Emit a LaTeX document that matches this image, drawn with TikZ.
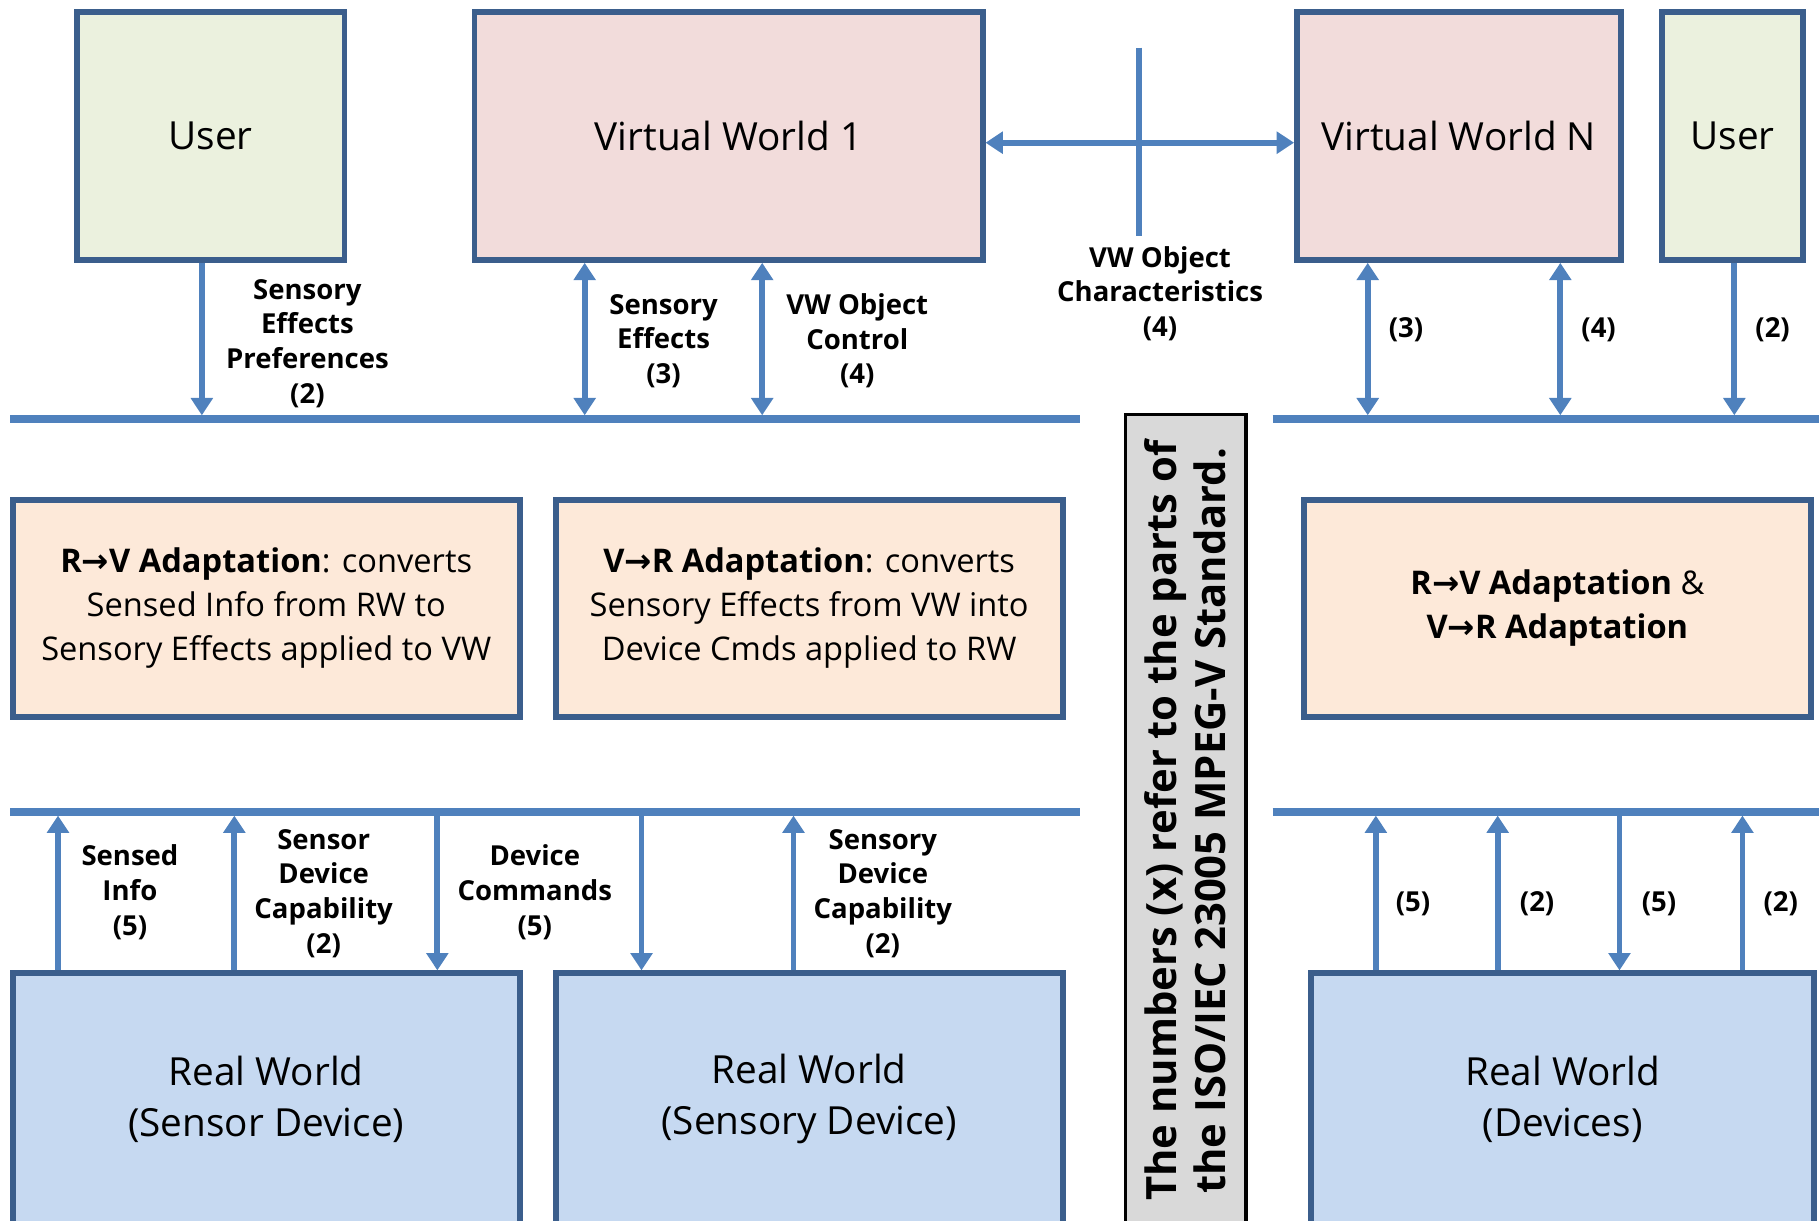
\documentclass[tikz,border=0pt]{standalone}
\usepackage{fontspec}
\setmainfont{Open Sans}
\newfontfamily\arrowfont{DejaVu Sans}
\usetikzlibrary{arrows.meta}

\definecolor{boxline}{HTML}{3B5E8C}
\definecolor{busblue}{HTML}{4F81BD}
\definecolor{userfill}{HTML}{EBF1DE}
\definecolor{vwfill}{HTML}{F2DCDB}
\definecolor{adaptfill}{HTML}{FDE9D9}
\definecolor{rwfill}{HTML}{C6D9F1}
\definecolor{notefill}{HTML}{D9D9D9}

\newcommand{\bigfont}{\fontsize{19}{25}\selectfont}
\newcommand{\midfont}{\fontsize{16}{21.6}\selectfont}
\newcommand{\lblfont}{\bfseries\fontsize{13.5}{17}\selectfont}
\newcommand{\notefont}{\bfseries\fontsize{20.5}{24}\selectfont}
\newcommand{\toarrow}{{\arrowfont\bfseries →}}

\tikzset{
  block/.style={draw=boxline, line width=2.9pt, inner sep=0pt, align=center},
  bus/.style={draw=busblue, line width=4pt},
  link/.style={draw=busblue, line width=2.9pt},
  lbl/.style={align=center, inner sep=0pt, font=\lblfont},
}

\begin{document}
\begin{tikzpicture}[x=0.02cm, y=-0.02cm, >={Triangle[width=10.5pt,length=8.5pt]}]
\useasboundingbox (0,0) rectangle (1568,1052);

% virtual worlds and users
\node[block, fill=userfill, minimum width=4.62cm, minimum height=4.28cm, font=\bigfont] (user1) at (181.5,117) {User};
\node[block, fill=vwfill, minimum width=8.76cm, minimum height=4.28cm, font=\bigfont] (vw1) at (628,117) {Virtual World 1};
\node[block, fill=vwfill, minimum width=5.58cm, minimum height=4.28cm, font=\bigfont] (vwN) at (1257.5,117) {Virtual World N};
\node[block, fill=userfill, minimum width=2.42cm, minimum height=4.28cm, font=\bigfont] (user2) at (1493.5,117) {User};

% adaptation engines
\node[block, fill=adaptfill, minimum width=8.74cm, minimum height=3.74cm, font=\midfont] (rv) at (229.5,524.5)
  {\textbf{R\toarrow V Adaptation}: converts\\Sensed Info from RW to\\Sensory Effects applied to VW};
\node[block, fill=adaptfill, minimum width=8.74cm, minimum height=3.74cm, font=\midfont] (vr) at (697.5,524.5)
  {\textbf{V\toarrow R Adaptation}: converts\\Sensory Effects from VW into\\Device Cmds applied to RW};
\node[block, fill=adaptfill, minimum width=8.74cm, minimum height=3.74cm, font=\midfont] (rvvr) at (1342.5,524.5)
  {\textbf{R\toarrow V Adaptation} \&\\\textbf{V\toarrow R Adaptation}};

% real world
\node[block, fill=rwfill, minimum width=8.74cm, minimum height=4.34cm, font=\bigfont] (rw1) at (229.5,947.5) {Real World\\(Sensor Device)};
\node[block, fill=rwfill, minimum width=8.74cm, minimum height=4.34cm, font=\bigfont] (rw2) at (697.5,947.5) {Real World\\(Sensory Device)};
\node[block, fill=rwfill, minimum width=8.68cm, minimum height=4.34cm, font=\bigfont] (rw3) at (1347,947.5) {Real World\\(Devices)};

% note
\node[draw=black, line width=1.6pt, fill=notefill, rotate=90, minimum width=14.02cm, minimum height=2.08cm,
  inner sep=0pt, align=center, font=\notefont] (note) at (1022,707.5)
  {The numbers (x) refer to the parts of\\the ISO/IEC 23005 MPEG-V Standard.};

% buses
\coordinate (busTLw) at (9,361);   \coordinate (busTLe) at (931,361);
\coordinate (busTRw) at (1097,361); \coordinate (busTRe) at (1568,361);
\coordinate (busBLw) at (9,700);   \coordinate (busBLe) at (931,700);
\coordinate (busBRw) at (1097,700); \coordinate (busBRe) at (1568,700);
\draw[bus] (busTLw) -- (busTLe);
\draw[bus] (busTRw) -- (busTRe);
\draw[bus] (busBLw) -- (busBLe);
\draw[bus] (busBRw) -- (busBRe);

% upper taps
\coordinate (s1) at (174,358);
\coordinate (s2) at (504,358);
\coordinate (s3) at (657,358);
\coordinate (s4) at (1179,358);
\coordinate (s5) at (1345,358);
\coordinate (s6) at (1495,358);
\draw[link, ->] (s1 |- user1.south) -- (s1);
\draw[link, <->] (s2 |- vw1.south) -- (s2);
\draw[link, <->] (s3 |- vw1.south) -- (s3);
\draw[link, <->] (s4 |- vwN.south) -- (s4);
\draw[link, <->] (s5 |- vwN.south) -- (s5);
\draw[link, ->] (s6 |- user2.south) -- (s6);

% lower taps
\coordinate (b1) at (50,703);
\coordinate (b2) at (202,703);
\coordinate (b3) at (377,700);
\coordinate (b4) at (553,700);
\coordinate (b5) at (684,703);
\coordinate (b6) at (1186,703);
\coordinate (b7) at (1291,703);
\coordinate (b8) at (1396,700);
\coordinate (b9) at (1502,703);
\draw[link, ->] (b1 |- rw1.north) -- (b1);
\draw[link, ->] (b2 |- rw1.north) -- (b2);
\draw[link, ->] (b3) -- (b3 |- rw1.north);
\draw[link, ->] (b4) -- (b4 |- rw2.north);
\draw[link, ->] (b5 |- rw2.north) -- (b5);
\draw[link, ->] (b6 |- rw3.north) -- (b6);
\draw[link, ->] (b7 |- rw3.north) -- (b7);
\draw[link, ->] (b8) -- (b8 |- rw3.north);
\draw[link, ->] (b9 |- rw3.north) -- (b9);

% world to world
\coordinate (cross) at (982,123);
\coordinate (crossT) at (982,41);
\coordinate (crossB) at (982,203);
\draw[link, <->] (cross -| vw1.east) -- (cross -| vwN.west);
\draw[link] (crossT) -- (crossB);

% labels
\node[lbl] (lbPref) at (265,296) {Sensory\\Effects\\Preferences\\(2)};
\node[lbl] (lbSE) at (572,294) {Sensory\\Effects\\(3)};
\node[lbl] (lbCtrl) at (739,294) {VW Object\\Control\\(4)};
\node[lbl] (lbChar) at (1000,253) {VW Object\\Characteristics\\(4)};
\node[lbl] (lbN3) at (1212,284) {(3)};
\node[lbl] (lbN4) at (1378,284) {(4)};
\node[lbl] (lbN2) at (1528,284) {(2)};

\node[lbl] (lbSensed) at (112,769) {Sensed\\Info\\(5)};
\node[lbl] (lbSensCap) at (279,770) {Sensor\\Device\\Capability\\(2)};
\node[lbl] (lbCmd) at (461,769) {Device\\Commands\\(5)};
\node[lbl] (lbSryCap) at (761,770) {Sensory\\Device\\Capability\\(2)};
\node[lbl] (lbR5a) at (1218,779) {(5)};
\node[lbl] (lbR2a) at (1325,779) {(2)};
\node[lbl] (lbR5b) at (1430,779) {(5)};
\node[lbl] (lbR2b) at (1535,779) {(2)};
\end{tikzpicture}
\end{document}
